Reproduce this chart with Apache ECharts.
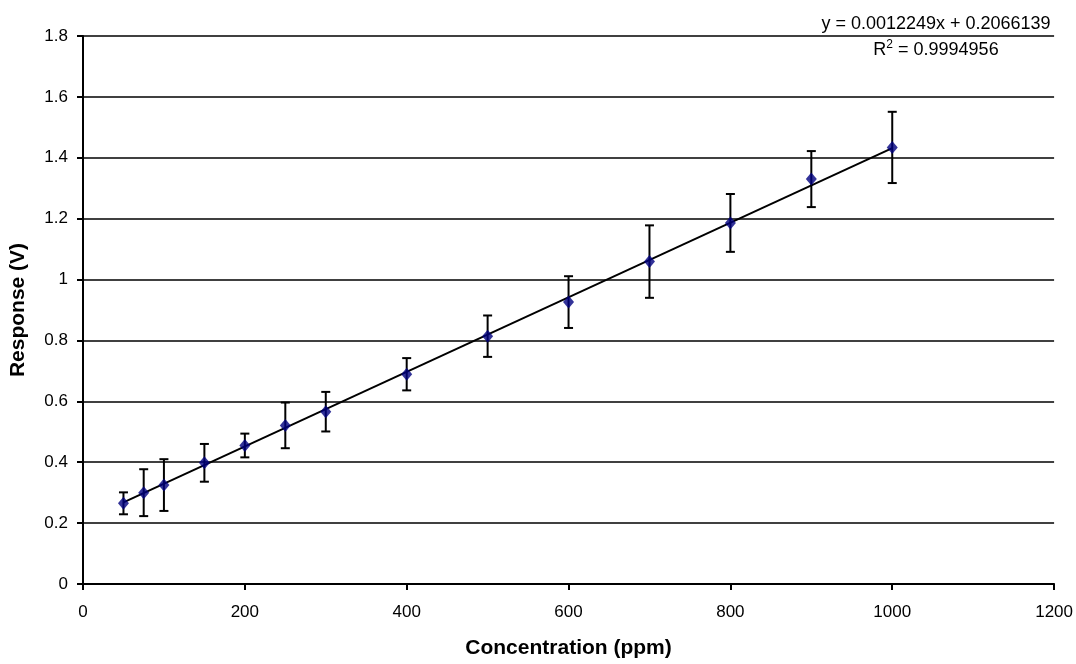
<!DOCTYPE html>
<html>
<head>
<meta charset="utf-8">
<script src="https://cdn.jsdelivr.net/npm/echarts@6/dist/echarts.min.js"></script>
<style>html,body{margin:0;padding:0;background:#fff}#c{width:1076px;height:664px}</style>
</head>
<body>
<div id="c"></div>
<script>
var concentration = [50, 75, 100, 150, 200, 250, 300, 400, 500, 600, 700, 800, 900, 1000];
var response = [0.265, 0.300, 0.325, 0.398, 0.455, 0.521, 0.566, 0.689, 0.814, 0.926, 1.059, 1.186, 1.330, 1.434];
var errorAmount = [0.036, 0.077, 0.085, 0.062, 0.039, 0.075, 0.065, 0.053, 0.068, 0.085, 0.119, 0.095, 0.092, 0.117];
var trendSlope = 0.0012249;
var trendIntercept = 0.2066139;
var trendRange = [50, 1000];
var equationText = 'y = 0.0012249x + 0.2066139';
var r2Text = ' = 0.9994956';

var points = concentration.map(function (x, i) { return [x, response[i]]; });
var errData = concentration.map(function (x, i) { return [x, response[i] - errorAmount[i], response[i] + errorAmount[i]]; });
var trendData = trendRange.map(function (x) { return [x, trendSlope * x + trendIntercept]; });

var chart = echarts.init(document.getElementById('c'));
var font = 'Liberation Sans, Arial, sans-serif';
chart.setOption({
  animation: false,
  backgroundColor: '#fff',
  grid: { left: 82, right: 21, top: 36, bottom: 76, containLabel: false },
  xAxis: {
    type: 'value', min: 0, max: 1200, interval: 200,
    name: 'Concentration (ppm)', nameLocation: 'middle', nameGap: 54,
    nameTextStyle: { fontFamily: font, fontSize: 21, fontWeight: 'bold', color: '#000' },
    axisLine: { show: true, onZero: false, lineStyle: { color: '#000', width: 2 } },
    axisTick: { show: true, inside: false, length: 6, lineStyle: { color: '#000', width: 2 } },
    axisLabel: { fontFamily: font, fontSize: 17, color: '#000', margin: 20,
      formatter: function (v) { return String(v); } },
    splitLine: { show: false }
  },
  yAxis: {
    type: 'value', min: 0, max: 1.8, interval: 0.2,
    name: 'Response (V)', nameLocation: 'middle', nameGap: 54,
    nameTextStyle: { fontFamily: font, fontSize: 21, fontWeight: 'bold', color: '#000' },
    axisLine: { show: true, lineStyle: { color: '#000', width: 2 } },
    axisTick: { show: true, inside: false, length: 6, lineStyle: { color: '#000', width: 2 } },
    axisLabel: { fontFamily: font, fontSize: 17, color: '#000', margin: 15,
      formatter: function (v) { return String(Math.round(v * 10) / 10); } },
    splitLine: { show: true, lineStyle: { color: '#000', width: 1.5 } }
  },
  series: [
    {
      type: 'line', data: trendData, symbol: 'none', z: 2,
      lineStyle: { color: '#000', width: 2 }
    },
    {
      type: 'custom', data: errData, z: 3,
      renderItem: function (params, api) {
        var x = api.value(0);
        var lo = api.coord([x, api.value(1)]);
        var hi = api.coord([x, api.value(2)]);
        var h = 4.5;
        var st = { stroke: '#000', lineWidth: 2 };
        return {
          type: 'group',
          children: [
            { type: 'line', shape: { x1: lo[0], y1: lo[1], x2: hi[0], y2: hi[1] }, style: st },
            { type: 'line', shape: { x1: lo[0] - h, y1: lo[1], x2: lo[0] + h, y2: lo[1] }, style: st },
            { type: 'line', shape: { x1: hi[0] - h, y1: hi[1], x2: hi[0] + h, y2: hi[1] }, style: st }
          ]
        };
      }
    },
    {
      type: 'scatter', data: points, symbol: 'diamond', symbolSize: [11, 13], z: 4,
      itemStyle: { color: '#000080' }
    }
  ],
  graphic: [
    { type: 'text', x: 936, y: 24, style: { text: equationText, fontFamily: font, fontSize: 18, fill: '#000', align: 'center', verticalAlign: 'middle' } },
    { type: 'text', x: 936, y: 50, style: {
        text: '{a|R}{s|2}{a|' + r2Text + '}', align: 'center', verticalAlign: 'middle',
        rich: {
          a: { fontFamily: font, fontSize: 18, color: '#000' },
          s: { fontFamily: font, fontSize: 12, color: '#000', padding: [0, 0, 10, 0] }
        } } }
  ]
});
</script>
</body>
</html>
